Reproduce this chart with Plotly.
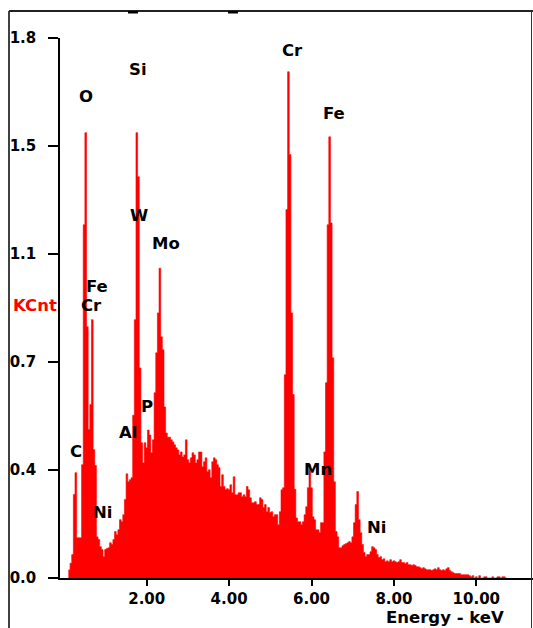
import plotly.graph_objects as go

# ---------------- data ----------------
bin_start_kev = 0.10
bin_width_kev = 0.04
kcnt = [
    0.027, 0.05, 0.079, 0.282, 0.356, 0.136, 0.136, 0.136, 0.383, 1.194,
    1.505, 0.849, 0.502, 0.586, 0.873, 0.434, 0.38, 0.139, 0.13, 0.106,
    0.096, 0.072, 0.096, 0.10, 0.102, 0.119, 0.113, 0.13, 0.157, 0.146,
    0.163, 0.197, 0.19, 0.214, 0.265, 0.352, 0.325, 0.332, 0.339, 0.55,
    0.873, 1.505, 1.356, 0.71, 0.457, 0.389, 0.457, 0.44, 0.50, 0.483,
    0.423, 0.467, 0.626, 0.761, 0.896, 1.047, 0.815, 0.771, 0.578, 0.49,
    0.476, 0.476, 0.467, 0.46, 0.45, 0.44, 0.433, 0.416, 0.426, 0.409,
    0.416, 0.467, 0.40, 0.389, 0.406, 0.423, 0.416, 0.389, 0.40, 0.426,
    0.426, 0.376, 0.393, 0.406, 0.359, 0.366, 0.339, 0.393, 0.406, 0.40,
    0.383, 0.373, 0.309, 0.349, 0.309, 0.298, 0.302, 0.298, 0.315, 0.288,
    0.342, 0.281, 0.281, 0.288, 0.288, 0.275, 0.281, 0.275, 0.309, 0.298,
    0.271, 0.254, 0.254, 0.258, 0.248, 0.248, 0.271, 0.265, 0.238, 0.248,
    0.224, 0.238, 0.221, 0.224, 0.207, 0.214, 0.214, 0.18, 0.224, 0.298,
    0.305, 0.687, 1.245, 1.711, 1.431, 0.896, 0.62, 0.30, 0.203, 0.19,
    0.19, 0.18, 0.19, 0.214, 0.241, 0.305, 0.383, 0.305, 0.207, 0.197,
    0.163, 0.163, 0.153, 0.187, 0.187, 0.426, 0.66, 1.194, 1.491, 1.2,
    0.744, 0.325, 0.157, 0.139, 0.102, 0.102, 0.109, 0.113, 0.116, 0.119,
    0.123, 0.119, 0.139, 0.187, 0.248, 0.292, 0.197, 0.153, 0.113, 0.086,
    0.072, 0.079, 0.079, 0.089, 0.106, 0.102, 0.096, 0.079, 0.069, 0.072,
    0.062, 0.065, 0.055, 0.058, 0.055, 0.062, 0.055, 0.058, 0.055, 0.052,
    0.055, 0.062, 0.052, 0.052, 0.048, 0.052, 0.045, 0.045, 0.042, 0.045,
    0.042, 0.038, 0.038, 0.035, 0.031, 0.035, 0.031, 0.028, 0.028, 0.028,
    0.025, 0.028, 0.031, 0.028, 0.035, 0.028, 0.025, 0.028, 0.025, 0.031,
    0.035, 0.025, 0.021, 0.018, 0.015, 0.015, 0.015, 0.015, 0.011, 0.011,
    0.011, 0.011, 0.011, 0.008, 0.004, 0.008, 0.0, 0.004, 0.0, 0.008,
    0.0, 0.0, 0.004, 0.004, 0.0, 0.0, 0.0, 0.004, 0.0, 0.0,
    0.004, 0.004, 0.0, 0.004, 0.004, 0.0,
]

x_tick_vals = [2, 4, 6, 8, 10]
x_tick_text = ["2.00", "4.00", "6.00", "8.00", "10.00"]
y_tick_vals = [0, 0.365, 0.73, 1.095, 1.46, 1.825]
y_tick_text = ["0.0", "0.4", "0.7", "1.1", "1.5", "1.8"]

element_labels = ["O", "Si", "W", "Mo", "Fe", "Cr", "C", "Al", "P", "Ni",
                  "Cr", "Fe", "Mn", "Ni"]
label_kev = [0.53, 1.79, 1.81, 2.47, 0.79, 0.67, 0.28, 1.55, 2.01, 0.92,
             5.55, 6.55, 6.16, 7.57]
label_kcnt = [1.627, 1.718, 1.224, 1.130, 0.985, 0.920, 0.427, 0.491, 0.579,
              0.220, 1.782, 1.569, 0.366, 0.170]

# ---------------- figure ----------------
edges = [bin_start_kev + bin_width_kev * i for i in range(len(kcnt) + 1)]
yvals = kcnt + [kcnt[-1]]

W, H = 533, 628
ML, MR, MT, MB = 60, 0, 38, 50
PW, PH = W - ML - MR, H - MT - MB


def px(x):
    return (x - ML) / PW


def py(y):
    return (H - MB - y) / PH


fig = go.Figure()
fig.add_trace(go.Scatter(
    x=edges, y=yvals, mode="lines", line_shape="hv",
    line=dict(color="#ff0000", width=0.6),
    fill="tozeroy", fillcolor="#ff0000", hoverinfo="skip", showlegend=False,
))

FONT = "DejaVu Sans"
for name, ex, ey in zip(element_labels, label_kev, label_kcnt):
    fig.add_annotation(x=ex, y=ey, text=name, showarrow=False,
                       xanchor="center", yanchor="middle",
                       font=dict(family=FONT, size=16.5, color="black", weight="bold"))

fig.add_annotation(xref="paper", yref="paper", x=px(34.5), y=py(305),
                   text="KCnt", showarrow=False, xanchor="center", yanchor="middle",
                   font=dict(family=FONT, size=16.5, color="#ff0000", weight="bold"))
fig.add_annotation(xref="paper", yref="paper", x=px(506), y=py(617),
                   text="Energy - keV", showarrow=False, xanchor="right", yanchor="middle",
                   font=dict(family=FONT, size=16.5, color="black", weight="bold"))

shapes = [
    dict(type="line", xref="paper", yref="paper", x0=px(9), x1=px(9), y0=py(628), y1=py(11),
         line=dict(color="black", width=1.5)),
    dict(type="line", xref="paper", yref="paper", x0=px(9), x1=px(533), y0=py(11), y1=py(11),
         line=dict(color="#222", width=2)),
    dict(type="line", xref="paper", yref="paper", x0=px(531.5), x1=px(531.5), y0=py(628), y1=py(11),
         line=dict(color="#333", width=1)),
    dict(type="rect", xref="paper", yref="paper", x0=px(128), x1=px(138), y0=py(13.5), y1=py(11),
         line=dict(width=0), fillcolor="black"),
    dict(type="rect", xref="paper", yref="paper", x0=px(228), x1=px(238), y0=py(13.5), y1=py(11),
         line=dict(width=0), fillcolor="black"),
]

fig.update_layout(
    width=W, height=H,
    margin=dict(l=ML, r=MR, t=MT, b=MB),
    paper_bgcolor="white", plot_bgcolor="white",
    showlegend=False,
    shapes=shapes,
    xaxis=dict(
        range=[-0.104, 11.376], showgrid=False, zeroline=False,
        showline=True, linecolor="black", linewidth=2,
        ticks="outside", ticklen=6, tickwidth=1.5, tickcolor="black",
        tickvals=x_tick_vals, ticktext=x_tick_text,
        tickfont=dict(family=FONT, size=15, color="black", weight="bold"),
    ),
    yaxis=dict(
        range=[0, 1.825], showgrid=False, zeroline=False,
        showline=True, linecolor="black", linewidth=1.5,
        ticks="outside", ticklen=10, tickwidth=1.5, tickcolor="black",
        tickvals=y_tick_vals, ticktext=y_tick_text,
        ticklabelstandoff=9,
        tickfont=dict(family=FONT, size=15, color="black", weight="bold"),
    ),
)

fig.write_html("out.html",
               config={"displayModeBar": False},
               post_script="document.body.style.margin='0px';document.body.style.overflow='hidden';")
